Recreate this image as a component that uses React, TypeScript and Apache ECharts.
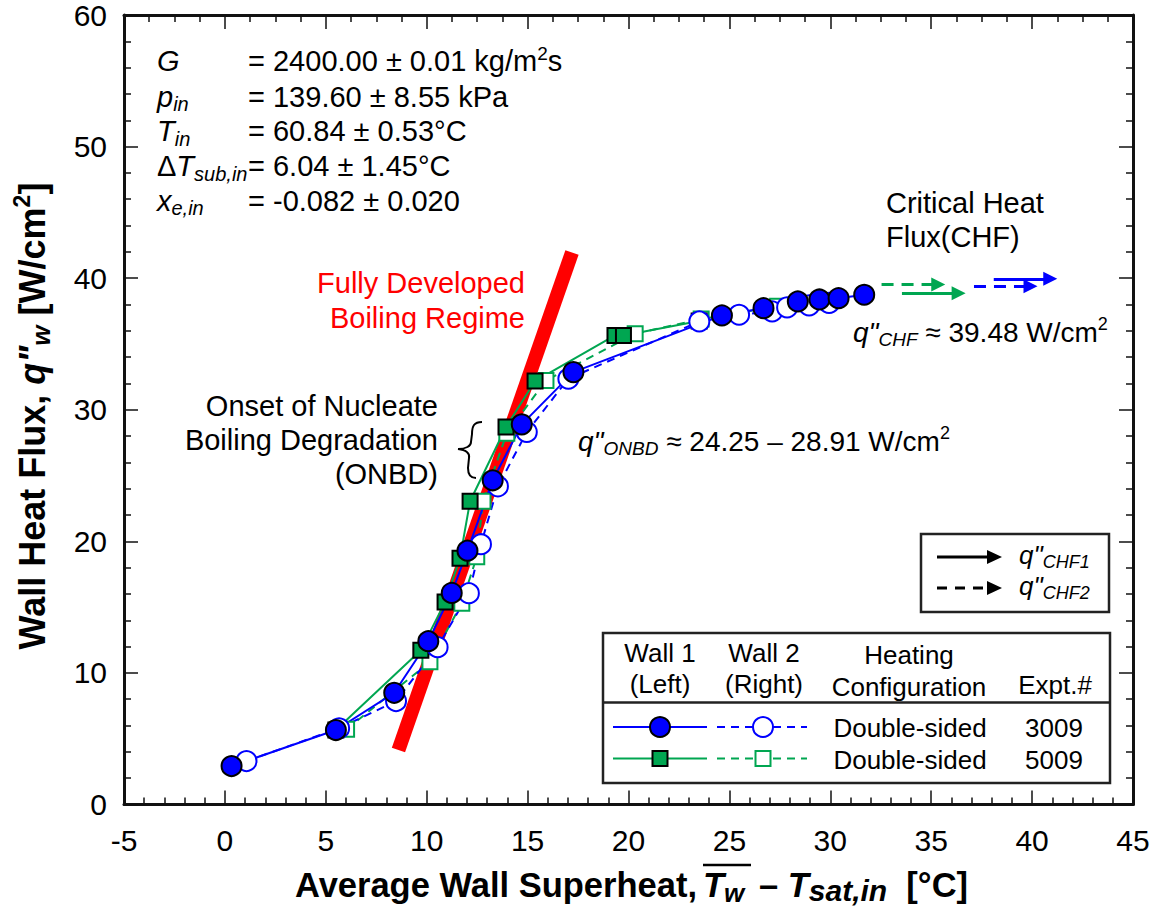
import React, { useEffect, useRef } from 'react';
import * as echarts from 'echarts';

// ---- Data ----
// Expt. 3009 (blue)
const wall1Exp3009X = [0.33, 5.5, 8.39, 10.08, 11.24, 12.02, 13.27, 14.71, 17.27, 24.63, 26.69, 28.39, 29.46, 30.41, 31.68];
const wall1Exp3009Y = [2.92, 5.66, 8.49, 12.41, 16.08, 19.29, 24.64, 28.89, 32.86, 37.17, 37.72, 38.23, 38.38, 38.48, 38.74];
const wall2Exp3009X = [1.07, 5.66, 8.48, 10.54, 12.09, 12.69, 13.53, 14.96, 17.02, 23.51, 25.48, 27.12, 27.86, 28.95, 29.94];
const wall2Exp3009Y = [3.3, 5.79, 7.86, 11.96, 16.06, 19.78, 24.18, 28.31, 32.36, 36.71, 37.22, 37.47, 37.78, 37.93, 38.12];
// Expt. 5009 (green)
const wall1Exp5009X = [5.5, 9.71, 10.91, 11.65, 12.15, 13.93, 15.37, 19.33, 19.75, 23.5];
const wall1Exp5009Y = [5.66, 11.73, 15.38, 18.72, 23.05, 28.69, 32.18, 35.65, 35.65, 36.75];
const wall2Exp5009X = [6.03, 10.16, 11.74, 12.48, 12.79, 13.97, 15.91, 20.33, 23.6, 27.39];
const wall2Exp5009Y = [5.71, 10.84, 15.3, 18.82, 23.05, 28.21, 32.23, 35.78, 36.9, 37.86];
// Fully developed boiling regime line
const regimeX = [8.6, 17.2];
const regimeY = [4.14, 41.95];
// CHF arrows: [xStart, xTip, y]
const chfBlueSolid = [38.1, 41.25, 39.95];
const chfBlueDashed = [37.12, 40.27, 39.39];
const chfGreenSolid = [33.55, 36.71, 38.86];
const chfGreenDashed = [32.54, 35.7, 39.52];
// Axes
const xMin = -5, xMax = 45, xStep = 5;
const yMin = 0, yMax = 60, yStep = 10;

const FONT = '"Liberation Sans", Arial, Helvetica, sans-serif';
const BLUE = '#0000ff';
const GREEN = '#00a651';
const RED = '#ff0000';

const braceD = 'M 28 2 C 20 2 18 6 18 14 L 17 22 C 17 26 12 29 4 29 C 12 30 16 33 15 38 L 14 48 C 14 54 16 58 22 58';
try {
  echarts.graphic.registerShape('brace', echarts.graphic.extendPath(braceD, {}) as any);
} catch (e) {}

const zip = (xs: number[], ys: number[]) => xs.map((x, i) => [x, ys[i]]);

function richSet(size: number, color = '#000', bold = false, subRatio = 0.68) {
  const w = bold ? 'bold' : 'normal';
  return {
    n: { fontSize: size, fontFamily: FONT, color, fontWeight: w, lineHeight: Math.round(size * 1.2) },
    i: { fontSize: size, fontFamily: FONT, color, fontWeight: w, fontStyle: 'italic', lineHeight: Math.round(size * 1.2) },
    sub: { fontSize: Math.round(size * subRatio), fontFamily: FONT, color, fontWeight: w, fontStyle: 'italic', lineHeight: Math.round(size * 0.8), verticalAlign: 'bottom' },
    sup: { fontSize: Math.round(size * 0.65), fontFamily: FONT, color, fontWeight: w, lineHeight: Math.round(size * 0.72), verticalAlign: 'top' },
  };
}

const R29 = richSet(29);
const R28 = richSet(28);
const R26 = richSet(26);
const RBX = richSet(34.5, '#000', true, 0.76);
const RBX2 = richSet(34.5, '#000', true, 0.88);
const RBY = richSet(36, '#000', true, 0.72);

function txt(x: number, y: number, text: string, rich: any, align = 'left', extra: any = {}) {
  return { type: 'text', x, y, silent: true, style: { text, rich, align, verticalAlign: 'middle', ...extra } };
}

function plain(x: number, y: number, text: string, size: number, color: string, align: string, lineHeight: number) {
  return {
    type: 'text', x, y, silent: true,
    style: { text, fontSize: size, fontFamily: FONT, fill: color, align, verticalAlign: 'middle', lineHeight },
  };
}

function arrowMark(a: number[], color: string, dashed: boolean) {
  return {
    silent: true,
    animation: false,
    symbol: ['none', 'triangle'],
    symbolSize: 14,
    label: { show: false },
    emphasis: { disabled: true },
    lineStyle: { color, width: 3, type: dashed ? [12, 8] : 'solid', opacity: 1 },
    itemStyle: { color },
    data: [[{ coord: [a[0], a[2]] }, { coord: [a[1] - 0.35, a[2]] }]],
  };
}

function axisCommon(minorSplit: number, showLabel: boolean, isX: boolean) {
  return {
    type: 'value',
    min: isX ? xMin : yMin,
    max: isX ? xMax : yMax,
    interval: isX ? xStep : yStep,
    axisLine: { show: true, onZero: false, lineStyle: { color: '#111', width: 3 } },
    axisTick: { show: true, inside: true, length: 14, lineStyle: { color: '#111', width: 1.5 } },
    minorTick: { show: true, splitNumber: minorSplit, length: 7, lineStyle: { color: '#111', width: 1.5 } },
    splitLine: { show: false },
    minorSplitLine: { show: false },
    axisLabel: {
      show: showLabel,
      color: '#000',
      fontSize: 30,
      fontFamily: FONT,
      margin: isX ? 21 : 17,
    },
  };
}

const option: any = {
  animation: false,
  backgroundColor: '#fff',
  grid: { left: 124, right: 23, top: 15, bottom: 107.5, containLabel: false, outerBoundsMode: 'none' },
  xAxis: [
    { ...axisCommon(5, true, true), position: 'bottom' },
    { ...axisCommon(4, false, true), position: 'top' },
  ],
  yAxis: [
    { ...axisCommon(5, true, false), position: 'left' },
    { ...axisCommon(5, false, false), position: 'right' },
  ],
  series: [
    {
      type: 'line', name: 'Fully Developed Boiling Regime', data: zip(regimeX, regimeY),
      symbol: 'none', silent: true, lineStyle: { color: RED, width: 14, cap: 'butt' },
    },
    {
      type: 'line', name: 'Wall 2 5009', data: zip(wall2Exp5009X, wall2Exp5009Y),
      symbol: 'rect', symbolSize: 15, silent: true,
      itemStyle: { color: '#fff', borderColor: GREEN, borderWidth: 2 },
      lineStyle: { color: GREEN, width: 2, type: [8, 6] },
      markLine: arrowMark(chfGreenDashed, GREEN, true),
    },
    {
      type: 'line', name: 'Wall 1 5009', data: zip(wall1Exp5009X, wall1Exp5009Y),
      symbol: 'rect', symbolSize: 15, silent: true,
      itemStyle: { color: GREEN, borderColor: '#000', borderWidth: 2 },
      lineStyle: { color: GREEN, width: 2 },
      markLine: arrowMark(chfGreenSolid, GREEN, false),
    },
    {
      type: 'line', name: 'Wall 2 3009', data: zip(wall2Exp3009X, wall2Exp3009Y),
      symbol: 'circle', symbolSize: 20, silent: true,
      itemStyle: { color: '#fff', borderColor: BLUE, borderWidth: 2 },
      lineStyle: { color: BLUE, width: 2, type: [8, 6] },
      markLine: arrowMark(chfBlueDashed, BLUE, true),
    },
    {
      type: 'line', name: 'Wall 1 3009', data: zip(wall1Exp3009X, wall1Exp3009Y),
      symbol: 'circle', symbolSize: 20, silent: true,
      itemStyle: { color: BLUE, borderColor: '#000', borderWidth: 2 },
      lineStyle: { color: BLUE, width: 2 },
      markLine: arrowMark(chfBlueSolid, BLUE, false),
    },
  ],
  graphic: [
    // Parameter block
    txt(157, 61, '{i|G}', R29),
    txt(157, 96.5, '{i|p}{sub|in}', R29),
    txt(157, 131, '{i|T}{sub|in}', R29),
    txt(157, 166, '{n|Δ}{i|T}{sub|sub,in}', R29),
    txt(157, 200.5, '{i|x}{sub|e,in}', R29),
    txt(248, 61, '{n|= 2400.00 ± 0.01 kg/m}{sup|2}{n|s}', R29),
    txt(248, 96.5, '{n|= 139.60 ± 8.55 kPa}', R29),
    txt(248, 131, '{n|= 60.84 ± 0.53°C}', R29),
    txt(248, 166, '{n|= 6.04 ± 1.45°C}', R29),
    txt(248, 200.5, '{n|= -0.082 ± 0.020}', R29),
    // Annotations
    plain(525, 300.5, 'Fully Developed\nBoiling Regime', 29, RED, 'right', 35),
    plain(438, 440, 'Onset of Nucleate\nBoiling Degradation\n(ONBD)', 29, '#000', 'right', 34),
    plain(886, 220, 'Critical Heat\nFlux(CHF)', 29, '#000', 'left', 34),
    { type: 'brace', x: 454, y: 420, silent: true, style: { stroke: '#000', fill: 'none', lineWidth: 2 } },
    txt(578, 441, '{i|q"}{sub|ONBD}{n| ≈ 24.25 – 28.91 W/cm}{sup|2}', R28),
    txt(853, 332, '{i|q"}{sub|CHF}{n| ≈ 39.48 W/cm}{sup|2}', R28),
    // Arrow legend box
    { type: 'rect', shape: { x: 921, y: 534, width: 188, height: 78 }, silent: true, style: { fill: '#fff', stroke: '#222', lineWidth: 2.5 } },
    { type: 'line', shape: { x1: 937, y1: 557, x2: 989, y2: 557 }, silent: true, style: { stroke: '#000', lineWidth: 3 } },
    { type: 'polygon', shape: { points: [[987, 550], [1002, 557], [987, 564]] }, silent: true, style: { fill: '#000' } },
    { type: 'line', shape: { x1: 937, y1: 588, x2: 989, y2: 588 }, silent: true, style: { stroke: '#000', lineWidth: 3, lineDash: [10, 8] } },
    { type: 'polygon', shape: { points: [[987, 581], [1002, 588], [987, 595]] }, silent: true, style: { fill: '#000' } },
    txt(1019, 555, '{i|q"}{sub|CHF1}', R26),
    txt(1019, 586, '{i|q"}{sub|CHF2}', R26),
    // Main legend table
    { type: 'rect', shape: { x: 603, y: 633, width: 507, height: 150 }, silent: true, style: { fill: '#fff', stroke: '#222', lineWidth: 2.5 } },
    { type: 'line', shape: { x1: 603, y1: 702.5, x2: 1110, y2: 702.5 }, silent: true, style: { stroke: '#222', lineWidth: 2.5 } },
    plain(660, 668.5, 'Wall 1\n(Left)', 26, '#000', 'center', 31),
    plain(764, 668.5, 'Wall 2\n(Right)', 26, '#000', 'center', 31),
    plain(909, 671, 'Heating\nConfiguration', 26, '#000', 'center', 32),
    plain(1055, 685, 'Expt.#', 26, '#000', 'center', 31),
    // row 1
    { type: 'line', shape: { x1: 613, y1: 727, x2: 707, y2: 727 }, silent: true, style: { stroke: BLUE, lineWidth: 2 } },
    { type: 'circle', shape: { cx: 660, cy: 727, r: 10 }, silent: true, style: { fill: BLUE, stroke: '#000', lineWidth: 2 } },
    { type: 'line', shape: { x1: 717, y1: 727, x2: 807, y2: 727 }, silent: true, style: { stroke: BLUE, lineWidth: 2, lineDash: [8, 6] } },
    { type: 'circle', shape: { cx: 763, cy: 727, r: 10 }, silent: true, style: { fill: '#fff', stroke: BLUE, lineWidth: 2 } },
    plain(910, 728, 'Double-sided', 26, '#000', 'center', 31),
    plain(1054, 728, '3009', 26, '#000', 'center', 31),
    // row 2
    { type: 'line', shape: { x1: 613, y1: 758.5, x2: 707, y2: 758.5 }, silent: true, style: { stroke: GREEN, lineWidth: 2 } },
    { type: 'rect', shape: { x: 652.5, y: 751, width: 15, height: 15 }, silent: true, style: { fill: GREEN, stroke: '#000', lineWidth: 2 } },
    { type: 'line', shape: { x1: 717, y1: 758.5, x2: 807, y2: 758.5 }, silent: true, style: { stroke: GREEN, lineWidth: 2, lineDash: [8, 6] } },
    { type: 'rect', shape: { x: 755.5, y: 751, width: 15, height: 15 }, silent: true, style: { fill: '#fff', stroke: GREEN, lineWidth: 2 } },
    plain(910, 760, 'Double-sided', 26, '#000', 'center', 31),
    plain(1054, 760, '5009', 26, '#000', 'center', 31),
    // Axis titles
    {
      type: 'text', x: 32, y: 416, rotation: Math.PI / 2, silent: true,
      style: { text: '{n|Wall Heat Flux, }{i|q"}{sub|w}{n| [W/cm}{sup|2}{n|]}', rich: RBY, align: 'center', verticalAlign: 'middle' },
    },
    txt(697, 885, '{n|Average Wall Superheat,}', RBX, 'right'),
    txt(703, 885, '{i|T}{sub|w}', RBX, 'left'),
    { type: 'line', shape: { x1: 703, y1: 865, x2: 751, y2: 865 }, silent: true, style: { stroke: '#000', lineWidth: 2.5 } },
    txt(759, 885, '{n|– }{i|T}{sub|sat,in}{n|  [°C]}', RBX2, 'left'),
  ],
};

export default function App() {
  const ref = useRef<HTMLDivElement>(null);
  useEffect(() => {
    document.body.style.margin = '0';
    const chart = echarts.init(ref.current as HTMLDivElement, null, { renderer: 'svg', width: 1156, height: 912 });
    chart.setOption(option);
    return () => chart.dispose();
  }, []);
  return <div ref={ref} style={{ width: 1156, height: 912, background: '#fff' }} />;
}
